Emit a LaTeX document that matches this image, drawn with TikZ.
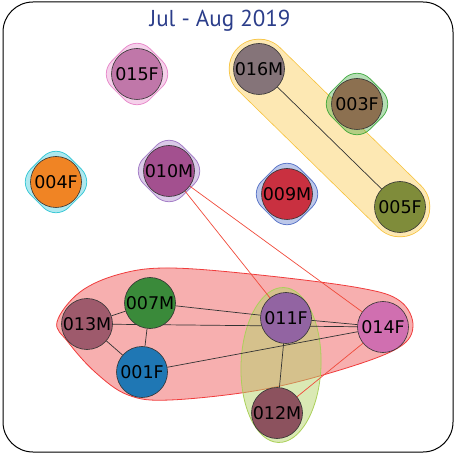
\documentclass[tikz,border=0pt]{standalone}
\usepackage{fontspec}
\setmainfont{DejaVu Sans}
\newfontfamily\titlefont{PT Sans}
\usetikzlibrary{shapes.geometric}
\pgfdeclarelayer{hulls}
\pgfdeclarelayer{links}
\pgfsetlayers{hulls,links,main}
\definecolor{titleblue}{HTML}{2B3D8A}
\definecolor{c015}{HTML}{C077A9}
\definecolor{c016}{HTML}{857479}
\definecolor{c003}{HTML}{8C7050}
\definecolor{c004}{HTML}{F08424}
\definecolor{c010}{HTML}{A3508F}
\definecolor{c009}{HTML}{C93040}
\definecolor{c005}{HTML}{7F8C3A}
\definecolor{c007}{HTML}{3A8A3A}
\definecolor{c013}{HTML}{9E5A6C}
\definecolor{c001}{HTML}{1F77B4}
\definecolor{c011}{HTML}{9264A2}
\definecolor{c014}{HTML}{D06FB0}
\definecolor{c012}{HTML}{8C525E}
\definecolor{hpink}{HTML}{E377C2}
\definecolor{hgreen}{HTML}{2CA02C}
\definecolor{hcyan}{HTML}{17BECF}
\definecolor{hpurple}{HTML}{9467BD}
\definecolor{hblue}{HTML}{3F5FBF}
\definecolor{hredfill}{HTML}{F7AFAF}
\definecolor{hrededge}{HTML}{F03C3C}
\definecolor{hyelfill}{HTML}{FDE8B3}
\definecolor{hyeledge}{HTML}{F7C23A}
\definecolor{hlimefill}{HTML}{B5D36A}
\definecolor{hlimeedge}{HTML}{ABD05A}
\definecolor{rededge}{HTML}{F04A3A}
\tikzset{
  x=1pt, y=-1pt,
  vert/.style={circle, draw=black!80, line width=0.6pt, minimum size=51pt, inner sep=0pt, font=\fontsize{17.5}{17.5}\selectfont},
  hullsq/.style={rectangle, rounded corners=18pt, minimum size=54pt, rotate=45, line width=0.8pt, draw=#1, fill=#1, fill opacity=0.35, draw opacity=0.8},
  blk/.style={draw=black!80, line width=0.7pt},
  redl/.style={draw=rededge, line width=0.7pt},
}
\begin{document}
\begin{tikzpicture}
\useasboundingbox (0,0) rectangle (455,454);
\draw[line width=1pt, rounded corners=30pt] (3,2) rectangle (453,452);
\node[font=\titlefont\fontsize{23}{23}\selectfont, text=titleblue, anchor=base] (title) at (220,27) {Jul - Aug 2019};
% nodes
\node[vert, fill=c015] (n015) at (137,74) {015F};
\node[vert, fill=c016] (n016) at (259,69) {016M};
\node[vert, fill=c003] (n003) at (357,104) {003F};
\node[vert, fill=c004] (n004) at (56,182) {004F};
\node[vert, fill=c010] (n010) at (169,171) {010M};
\node[vert, fill=c009] (n009) at (287,194) {009M};
\node[vert, fill=c005] (n005) at (400,207) {005F};
\node[vert, fill=c007] (n007) at (150,303) {007M};
\node[vert, fill=c013] (n013) at (87,324) {013M};
\node[vert, fill=c001] (n001) at (142,372) {001F};
\node[vert, fill=c011] (n011) at (286,318) {011F};
\node[vert, fill=c014] (n014) at (383,327) {014F};
\node[vert, fill=c012] (n012) at (277,413) {012M};
\begin{pgfonlayer}{hulls}
  % red hull
  \draw[hrededge, fill=hredfill, line width=0.8pt] plot[smooth cycle, tension=0.6] coordinates {
    (57,322) (80,292) (120,274) (170,268) (260,275) (360,288) (400,301) (413,326)
    (398,348) (340,370) (260,390) (170,400) (128,395) (95,372) (68,342)};
  % yellow capsule
  \draw[hyeledge, line width=60.5pt, line cap=round] (n016.center) -- (n005.center);
  \draw[hyelfill, line width=59pt, line cap=round] (n016.center) -- (n005.center);
  % small hulls
  \node[hullsq=hpink] (h015) at (n015) {};
  \node[hullsq=hgreen] (h003) at (n003) {};
  \node[hullsq=hcyan] (h004) at (n004) {};
  \node[hullsq=hpurple] (h010) at (n010) {};
  \node[hullsq=hblue] (h009) at (n009) {};
  % lime ellipse
  \node[ellipse, minimum width=80pt, minimum height=155pt, rotate=-2, draw=hlimeedge, fill=hlimefill, fill opacity=0.5, line width=0.8pt] (h011) at (281,365) {};
\end{pgfonlayer}
\begin{pgfonlayer}{links}
  \draw[blk] (n016) -- (n005);
  \draw[blk] (n013) -- (n007);
  \draw[blk] (n013) -- (n001);
  \draw[blk] (n007) -- (n001);
  \draw[blk] (n007) -- (n011);
  \draw[blk] (n013.center) -- (n014.center);
  \draw[blk] (n011) -- (n014);
  \draw[blk] (n001) -- (n014);
  \draw[blk] (n011) -- (n012);
  \draw[redl] (n010) -- (n011);
  \draw[redl] (n010) -- (n014);
  \draw[redl] (n012) -- (n014);
\end{pgfonlayer}
\end{tikzpicture}
\end{document}
